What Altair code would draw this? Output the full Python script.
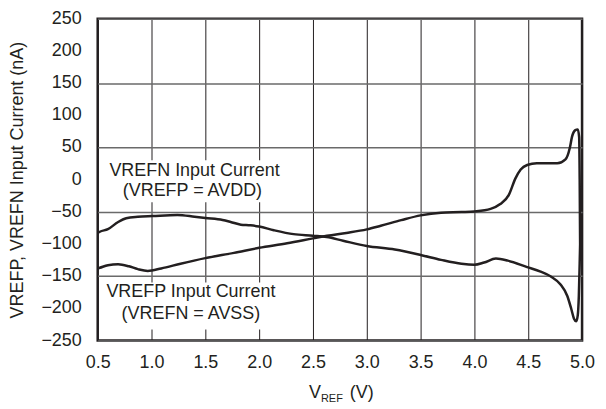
import altair as alt
import pandas as pd

# ---- data ----
vrefn_x = [0.50, 0.52, 0.595, 0.69, 0.765, 0.873, 1.01, 1.24, 1.40, 1.50, 1.66, 1.735, 1.83, 1.92,
           2.0, 2.136, 2.32, 2.5, 2.628, 2.78, 3.0, 3.26, 3.5, 3.69, 3.88, 4.0, 4.09, 4.2, 4.31,
           4.49, 4.615, 4.71, 4.80, 4.863, 4.90, 4.925, 4.946, 4.96, 4.97, 4.978, 4.982]
vrefn_y = [-83, -81, -77, -65.8, -60, -57.7, -56.6, -55, -57.7, -59.7, -62.8, -65.8, -70, -71,
           -73, -78.6, -84.7, -87.2, -89.3, -95, -103, -108.6, -117, -124.7, -130.8, -132.3, -128.8,
           -122.7, -125.8, -135.9, -143, -150.5, -163, -180.8, -201, -216, -220, -211, -181, -130, -100]

vrefp_x = [0.50, 0.52, 0.595, 0.69, 0.79, 0.873, 0.965, 1.09, 1.27, 1.5, 1.766, 2.0, 2.26, 2.5,
           2.63, 2.81, 3.0, 3.13, 3.32, 3.5, 3.69, 3.88, 4.0, 4.15, 4.24, 4.32, 4.38, 4.43, 4.49,
           4.58, 4.77, 4.846, 4.886, 4.907, 4.938, 4.96, 4.973, 4.978, 4.982]
vrefp_y = [-138, -137, -133, -131.6, -134.7, -139, -141.8, -138, -130.6, -122, -113.8, -106, -99,
           -91.3, -87.2, -82.8, -77.3, -71.7, -63, -55.6, -51.5, -50.5, -49.5, -45.5, -38, -23.7,
           1.5, 15.7, 22.7, 25.3, 25.3, 31.3, 49, 66.7, 76.8, 78, 66, 0, -100]

x_ticks = [0.5, 1.0, 1.5, 2.0, 2.5, 3.0, 3.5, 4.0, 4.5, 5.0]
y_ticks = [-250, -200, -150, -100, -50, 0, 50, 100, 150, 200, 250]

label_text = ["VREFN Input Current", "(VREFP = AVDD)", "VREFP Input Current", "(VREFN = AVSS)"]
label_x = [1.40, 1.38, 1.366, 1.366]
label_y = [13, -18, -174, -209]

box_x = [0.565, 0.565]
box_x2 = [2.27, 2.24]
box_y = [30, -160]
box_y2 = [-35, -233]

FONT = "Liberation Sans"
INK = "#231f20"
H = 323

curves = pd.DataFrame(
    [{"series": "VREFN", "i": i, "x": x, "y": y} for i, (x, y) in enumerate(zip(vrefn_x, vrefn_y))]
    + [{"series": "VREFP", "i": i, "x": x, "y": y} for i, (x, y) in enumerate(zip(vrefp_x, vrefp_y))]
)
labels = pd.DataFrame({"t": label_text, "x": label_x, "y": label_y})
boxes = pd.DataFrame({"x": box_x, "x2": box_x2, "y": box_y, "y2": box_y2})
yticks_df = pd.DataFrame({"v": y_ticks})

xscale = alt.Scale(domain=[0.5, 5.0], nice=False, zero=False)
yscale = alt.Scale(domain=[-250, 250], nice=False, zero=False)

xaxis = alt.Axis(values=x_ticks, format=".1f", title=None, grid=True, gridColor=INK, gridWidth=1,
                 ticks=False, domain=False, labelFontSize=18, labelFont=FONT, labelColor=INK,
                 labelPadding=13, labelFlush=False, labelOverlap=False)
yaxis = alt.Axis(values=y_ticks, title="VREFP, VREFN Input Current (nA)", grid=True,
                 gridColor="#6a6a6a", gridWidth=1.5, ticks=False, domain=False, labels=False,
                 titleFont=FONT, titleFontSize=18, titleFontWeight="normal", titleColor=INK,
                 titleX=-80, titleY=H / 2, titleAngle=270, titleAlign="center",
                 titleBaseline="middle")

lines = alt.Chart(curves).mark_line(color=INK, strokeWidth=2.5, interpolate="monotone").encode(
    x=alt.X("x:Q", scale=xscale, axis=xaxis),
    y=alt.Y("y:Q", scale=yscale, axis=yaxis),
    detail="series:N",
    order="i:Q",
)

ylabels = alt.Chart(yticks_df).mark_text(font=FONT, fontSize=18, color=INK, align="right",
                                         baseline="middle").encode(
    x=alt.value(-16),
    y=alt.Y("v:Q", scale=yscale),
    text=alt.Text("v:Q", format="d"),
)

rects = alt.Chart(boxes).mark_rect(color="white").encode(
    x=alt.X("x:Q", scale=xscale), x2="x2:Q",
    y=alt.Y("y:Q", scale=yscale), y2="y2:Q",
)

texts = alt.Chart(labels).mark_text(font=FONT, fontSize=18, color=INK, align="center",
                                    baseline="middle").encode(
    x=alt.X("x:Q", scale=xscale), y=alt.Y("y:Q", scale=yscale), text="t:N"
)

one = alt.Data(values=[{"a": 1}])
t_v = alt.Chart(one).mark_text(text="V", font=FONT, fontSize=18, color=INK, align="left",
                               baseline="alphabetic").encode(x=alt.value(212), y=alt.value(381))
t_ref = alt.Chart(one).mark_text(text="REF", font=FONT, fontSize=11, color=INK, align="left",
                                 baseline="alphabetic").encode(x=alt.value(224), y=alt.value(385))
t_unit = alt.Chart(one).mark_text(text="(V)", font=FONT, fontSize=18, color=INK, align="left",
                                  baseline="alphabetic").encode(x=alt.value(253), y=alt.value(381))

chart = alt.layer(lines, ylabels, rects, texts, t_v, t_ref, t_unit).properties(
    width=486, height=H,
    autosize=alt.AutoSizeParams(type="none"),
    padding={"left": 90, "top": 10, "right": 16, "bottom": 67},
    background="white",
).configure_view(stroke=INK, strokeWidth=2.5)

chart.save("out.html", embed_options={"renderer": "svg", "actions": False})
